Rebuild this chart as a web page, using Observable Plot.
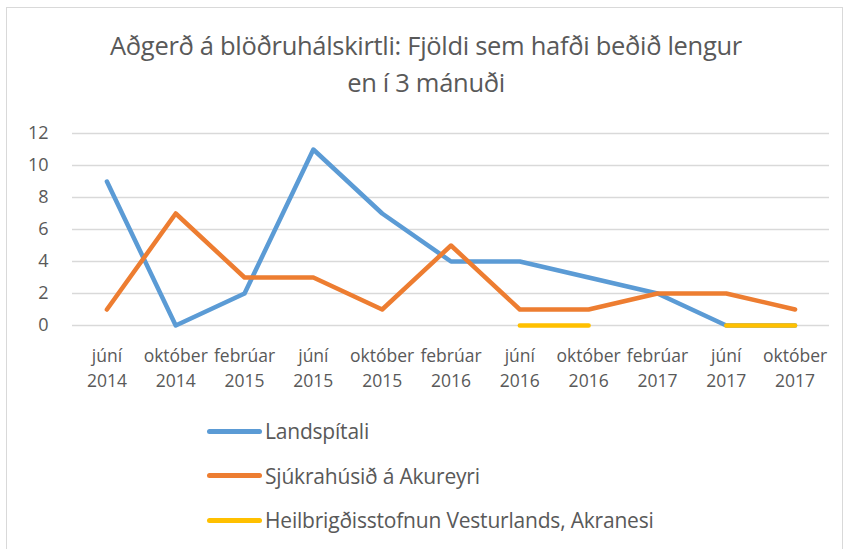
<!DOCTYPE html>
<html><head><meta charset="utf-8">
<script src="https://cdn.jsdelivr.net/npm/d3@7"></script>
<script src="https://cdn.jsdelivr.net/npm/@observablehq/plot@0.6"></script>
<style>
body{margin:0;background:#fff;font-family:"Open Sans",sans-serif;color:#595959;}
#wrap{position:relative;width:845px;height:549px;overflow:hidden;}
#frame{position:absolute;left:6px;top:7px;width:837px;height:560px;border:1.5px solid #D9D9D9;box-sizing:border-box;}
#title{position:absolute;left:0;width:852px;top:27px;text-align:center;font-size:25.5px;line-height:37px;letter-spacing:-0.3px;}
#chart{position:absolute;left:0;top:110px;}
#legend{position:absolute;left:207px;top:409px;font-size:21px;letter-spacing:-0.2px;}
.item{display:flex;align-items:center;height:44.5px;}
.sw{width:55px;height:5px;border-radius:3px;margin-right:3px;}
</style></head>
<body>
<div id="wrap">
<div id="frame"></div>
<div id="title">Aðgerð á blöðruhálskirtli: Fjöldi sem hafði beðið lengur<br>en í 3 mánuði</div>
<div id="chart"></div>
<div id="legend"></div>
</div>
<script>
const periods = ["júní\n2014","október\n2014","febrúar\n2015","júní\n2015","október\n2015","febrúar\n2016","júní\n2016","október\n2016","febrúar\n2017","júní\n2017","október\n2017"];
const seriesNames = ["Landspítali","Sjúkrahúsið á Akureyri","Heilbrigðisstofnun Vesturlands, Akranesi"];
const colors = ["#5B9BD5","#ED7D31","#FFC000"];
const landspitali = [9,0,2,11,7,4,4,3,2,0,0];
const akureyri = [1,7,3,3,1,5,1,1,2,2,1];
const akranes = [null,null,null,null,null,null,0,0,null,0,0];
const yTicks = [0,2,4,6,8,10,12];

const allSeries = [landspitali, akureyri, akranes];
const rows = [];
allSeries.forEach((vals, si) => vals.forEach((v, i) => rows.push({period: periods[i], value: v, series: seriesNames[si]})));

const chart = Plot.plot({
  width: 845, height: 290,
  marginLeft: 72, marginRight: 16, marginTop: 23, marginBottom: 75,
  style: {fontFamily: '"Open Sans", sans-serif', fontSize: "17.5px", color: "#595959", background: "transparent"},
  x: {type: "point", domain: periods, padding: 0.5, round: false},
  y: {domain: [0, 12]},
  color: {domain: seriesNames, range: colors},
  marks: [
    Plot.ruleY(yTicks, {stroke: "#D9D9D9", strokeWidth: 1.3}),
    Plot.axisY({ticks: yTicks, tickSize: 0, tickPadding: 24, label: null, fill: "#595959", fontSize: 18}),
    Plot.axisX({tickSize: 0, tickPadding: 19, label: null, fill: "#595959", fontSize: 17.5, lineHeight: 1.42, textAnchor: "middle"}),
    Plot.line(rows, {x: "period", y: "value", z: "series", stroke: "series", strokeWidth: 4.5, strokeLinecap: "round", strokeLinejoin: "round"})
  ]
});
document.getElementById("chart").appendChild(chart);

const lg = document.getElementById("legend");
seriesNames.forEach((n, i) => {
  const d = document.createElement("div"); d.className = "item";
  const s = document.createElement("div"); s.className = "sw"; s.style.background = colors[i];
  const t = document.createElement("span"); t.textContent = n;
  d.appendChild(s); d.appendChild(t); lg.appendChild(d);
});
</script>
</body></html>
